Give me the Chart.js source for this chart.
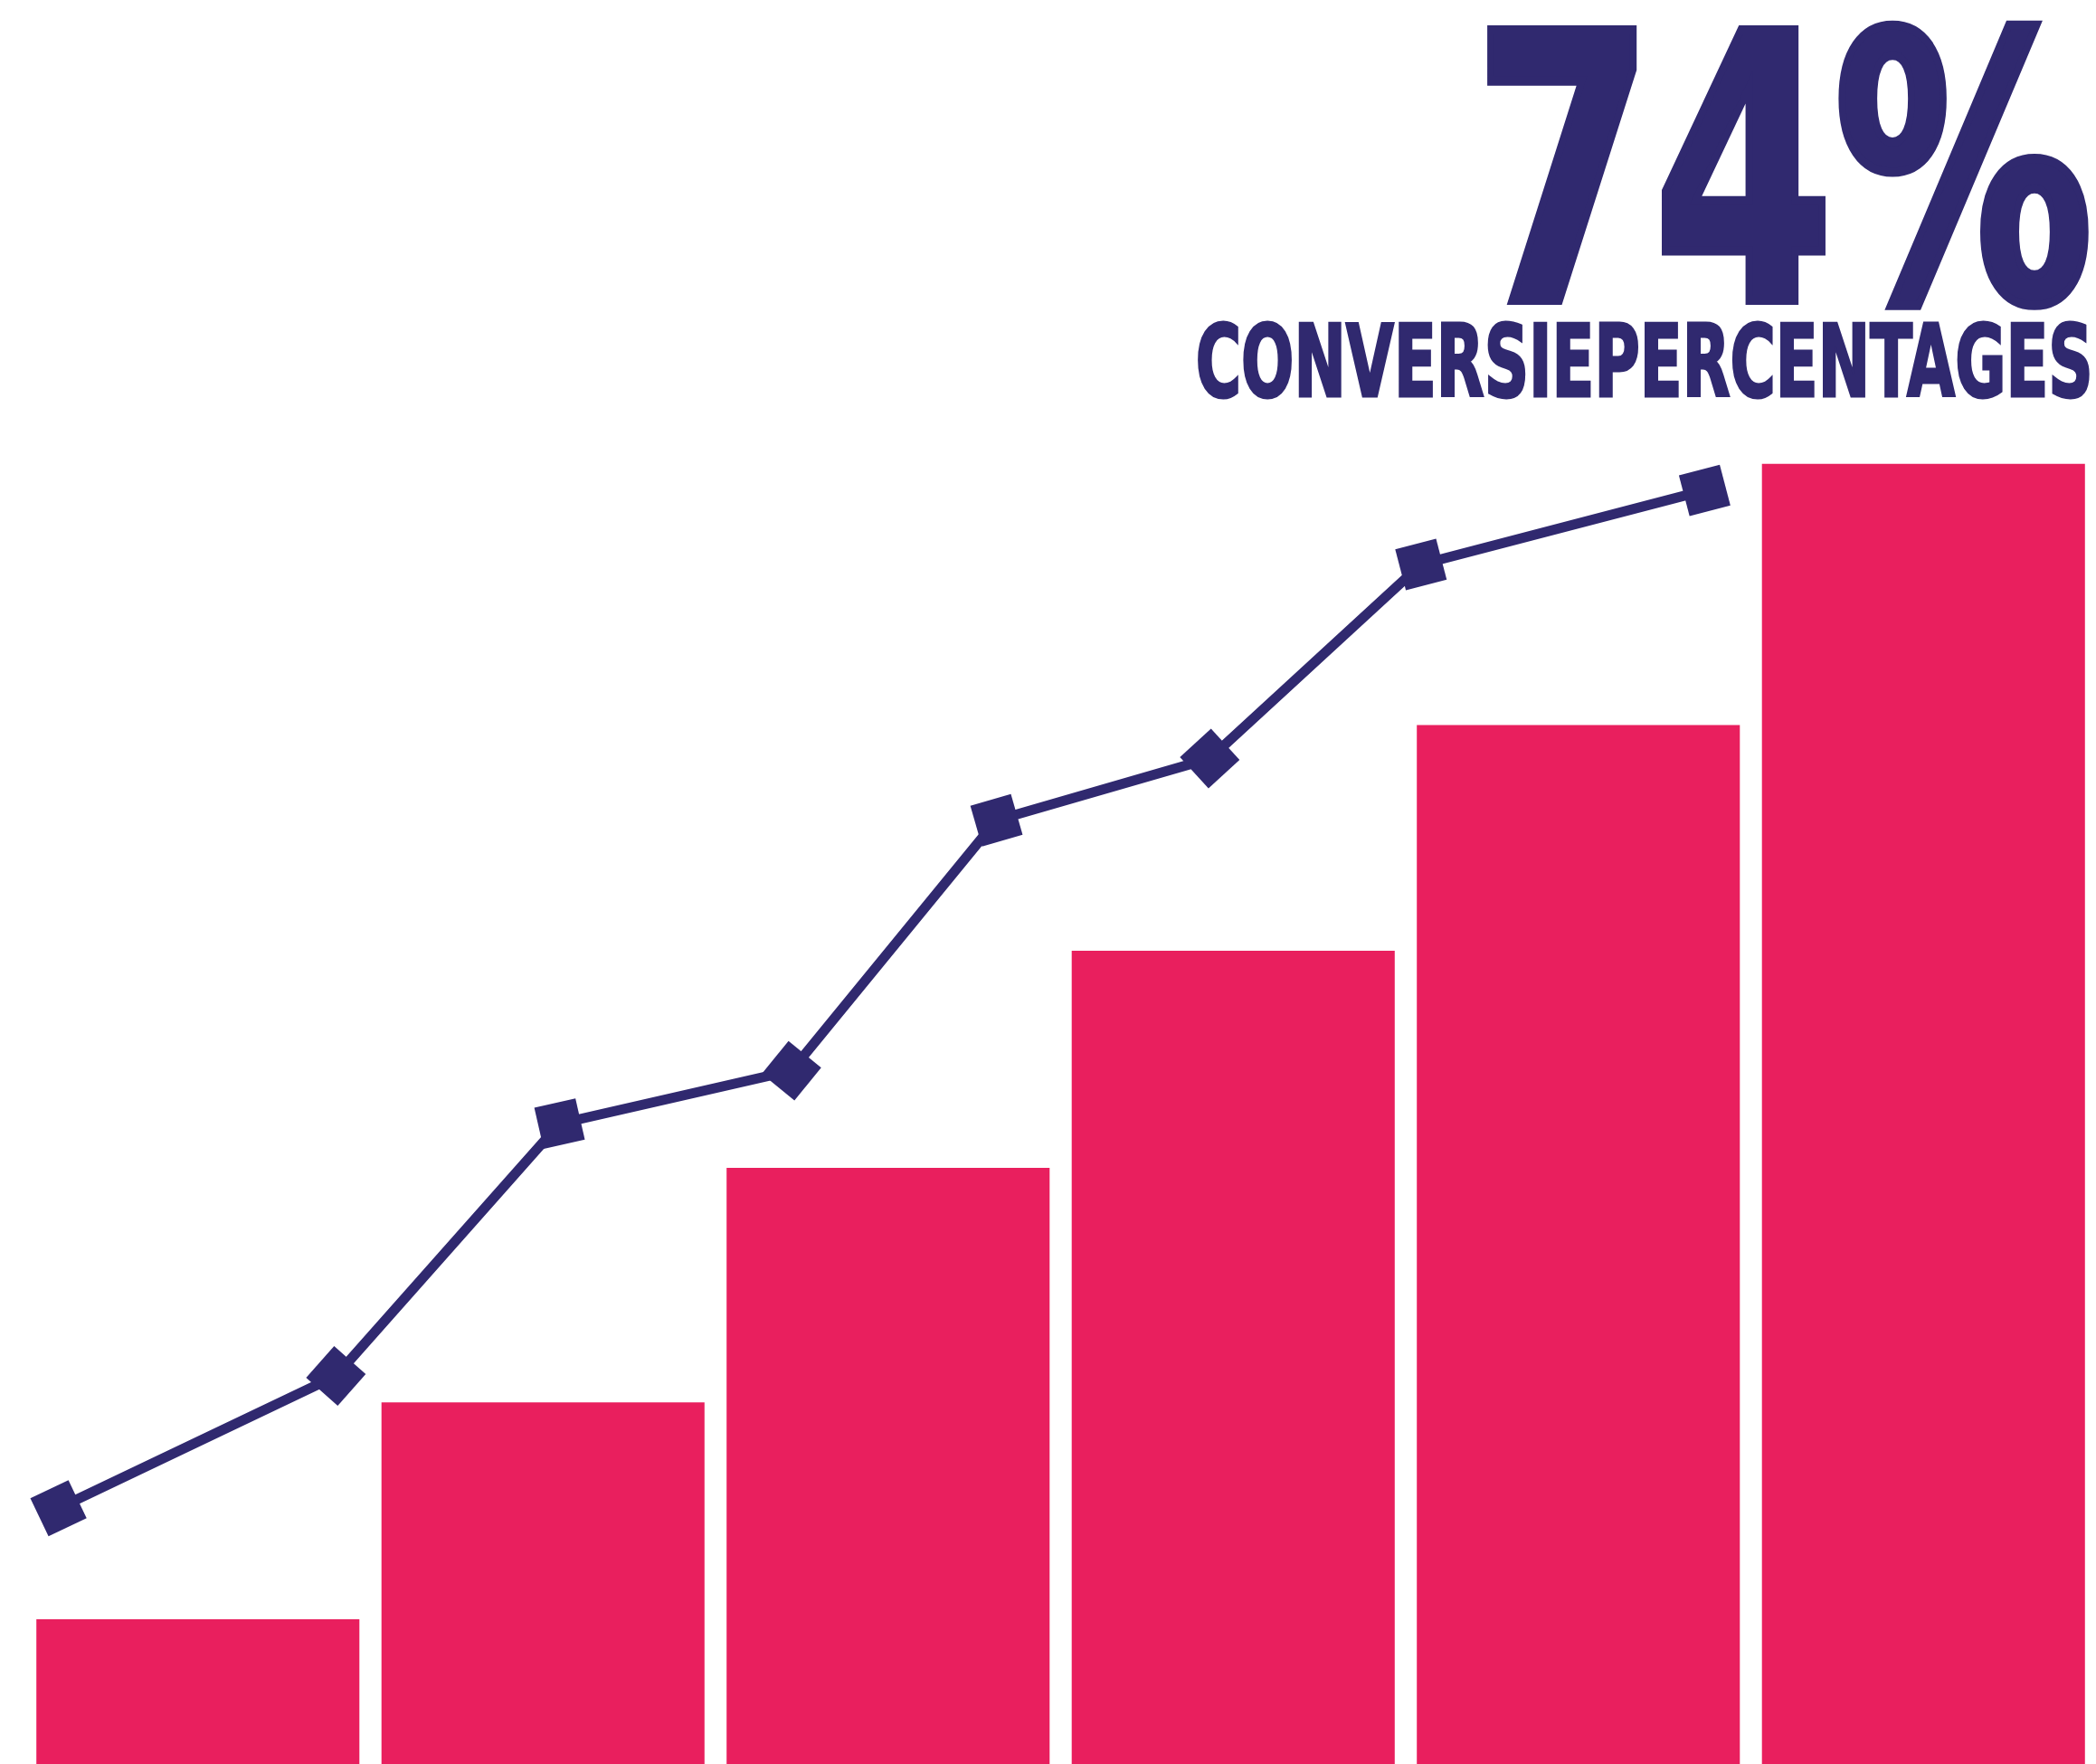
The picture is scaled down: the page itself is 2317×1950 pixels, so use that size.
<!DOCTYPE html>
<html lang="nl">
<head>
<meta charset="utf-8">
<title>Conversiepercentages</title>
<script src="https://cdn.jsdelivr.net/npm/chart.js@4.4.1/dist/chart.umd.min.js"></script>
<style>
  html, body { margin: 0; padding: 0; background: #fff; }
  #wrap { position: relative; width: 2317px; height: 1950px; overflow: hidden; }
  #chartBox { position: absolute; left: 0; top: 0; width: 2317px; height: 1950px; }
  .headline {
    position: absolute; right: 3px; white-space: nowrap; color: #30296F;
    font-family: 'Liberation Sans Narrow', 'DejaVu Sans Condensed', 'Liberation Sans', sans-serif;
    font-weight: 700; line-height: 1; transform-origin: right top;
  }
  #bigValue { top: -15px; font-size: 410px; -webkit-text-stroke: 10px #30296F; }
  #subTitle { top: 345px; font-size: 110px; -webkit-text-stroke: 3px #30296F; }
</style>
</head>
<body>
<div id="wrap">
  <div id="chartBox"><canvas id="conversionChart"></canvas></div>
  <div class="headline" id="bigValue">74%</div>
  <div class="headline" id="subTitle">CONVERSIEPERCENTAGES</div>
</div>
<script>
  const stages = ['Stap 1', 'Stap 2', 'Stap 3', 'Stap 4', 'Stap 5', 'Stap 6'];
  const barValues = [8.2, 20.5, 33.8, 46.1, 58.9, 73.7];

  // trend line, on its own 0-100 horizontal scale
  const lineX = [1.6, 15.0, 25.8, 37.0, 46.9, 57.2, 67.4, 81.1];
  const lineY = [14.5, 22.0, 36.3, 39.3, 53.5, 57.0, 68.0, 72.2];

  const pink = '#E91F5E';
  const navy = '#30296F';

  // squares follow the direction of the segment they start (last one: the one it ends)
  function markerAngle(ctx) {
    const i = ctx.dataIndex;
    if (i === undefined) return 0;
    const sx = ctx.chart.scales.x2, sy = ctx.chart.scales.y;
    if (!sx || !sy) return 0;
    const a = i < lineX.length - 1 ? i : i - 1;
    const b = a + 1;
    const dx = sx.getPixelForValue(lineX[b]) - sx.getPixelForValue(lineX[a]);
    const dy = sy.getPixelForValue(lineY[b]) - sy.getPixelForValue(lineY[a]);
    return Math.atan2(dy, dx) * 180 / Math.PI;
  }

  new Chart(document.getElementById('conversionChart'), {
    type: 'bar',
    data: {
      labels: stages,
      datasets: [
        {
          type: 'line',
          label: 'Trend',
          data: lineX.map((x, i) => ({ x: x, y: lineY[i] })),
          xAxisID: 'x2',
          yAxisID: 'y',
          borderColor: navy,
          borderWidth: 11,
          backgroundColor: navy,
          pointStyle: 'rect',
          pointRadius: 33,
          pointHoverRadius: 33,
          pointBorderWidth: 0,
          pointBackgroundColor: navy,
          pointRotation: markerAngle,
          tension: 0,
          clip: false,
          order: 0
        },
        {
          label: 'Conversie',
          data: barValues,
          xAxisID: 'x',
          backgroundColor: pink,
          borderWidth: 0,
          grouped: false,
          categoryPercentage: 1,
          barPercentage: 0.936,
          order: 1
        }
      ]
    },
    options: {
      responsive: true,
      maintainAspectRatio: false,
      animation: false,
      layout: { autoPadding: false, padding: { left: 28, right: 0, top: 0, bottom: 0 } },
      plugins: { legend: { display: false }, tooltip: { enabled: false } },
      scales: {
        x: { display: false, offset: true, grid: { display: false } },
        x2: { type: 'linear', display: false, offset: false, min: 0, max: 100 },
        y: { display: false, min: 0, max: 100, grid: { display: false } }
      }
    }
  });

  // squeeze the headline texts to their widths in the picture
  function fitWidth(id, target) {
    const el = document.getElementById(id);
    const w = el.getBoundingClientRect().width;
    el.style.transform = 'scaleX(' + (target / w) + ')';
  }
  fitWidth('bigValue', 685);
  fitWidth('subTitle', 992);
</script>
</body>
</html>
